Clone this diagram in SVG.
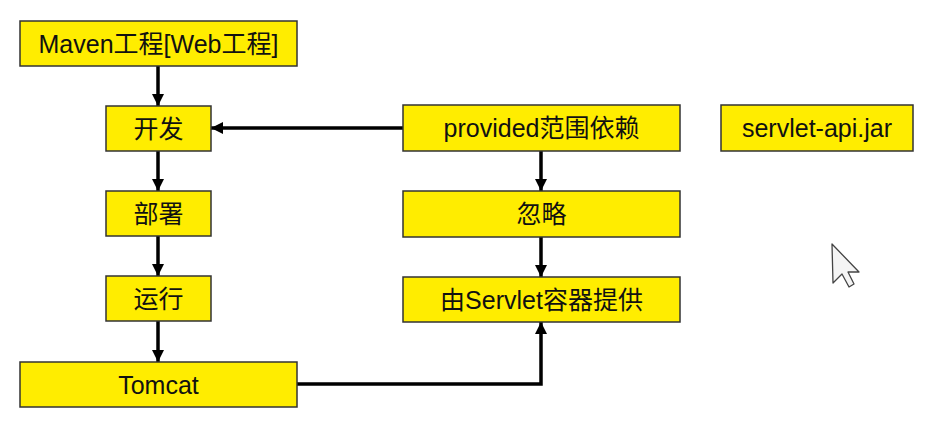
<svg xmlns="http://www.w3.org/2000/svg" width="927" height="424" viewBox="0 0 927 424">
<style>
.box{fill:#FFED00;stroke:#333;stroke-width:1.5}
.lbl{font-family:"Liberation Sans","Noto Sans CJK SC",sans-serif;font-size:25px;fill:#111;text-anchor:middle}
.edge{fill:none;stroke:#000;stroke-width:3.5}
</style>
<defs>
<marker id="ah" markerUnits="userSpaceOnUse" markerWidth="14" markerHeight="14" refX="12" refY="7" orient="auto" overflow="visible">
<path d="M0,1 L12,7 L0,13 z" fill="#000"/>
</marker>
</defs>
<rect width="927" height="424" fill="#fff"/>
<g id="connectors">
<path class="edge" d="M158,66 V106" marker-end="url(#ah)"/>
<path class="edge" d="M158,151 V191" marker-end="url(#ah)"/>
<path class="edge" d="M158,236 V276" marker-end="url(#ah)"/>
<path class="edge" d="M158,321 V362" marker-end="url(#ah)"/>
<path class="edge" d="M403,128 H211" marker-end="url(#ah)"/>
<path class="edge" d="M541,151 V191" marker-end="url(#ah)"/>
<path class="edge" d="M541,237 V277" marker-end="url(#ah)"/>
<path class="edge" d="M297,384 H541 V322" marker-end="url(#ah)"/>
</g>
<g id="maven"><rect class="box" x="20" y="21" width="277" height="45"/><text class="lbl" x="158.5" y="52.5">Maven工程[Web工程]</text></g>
<g id="kaifa"><rect class="box" x="106" y="106" width="105" height="45"/><text class="lbl" x="158.5" y="137.5">开发</text></g>
<g id="bushu"><rect class="box" x="106" y="191" width="105" height="45"/><text class="lbl" x="158.5" y="222.5">部署</text></g>
<g id="yunxing"><rect class="box" x="106" y="276" width="105" height="45"/><text class="lbl" x="158.5" y="307.5">运行</text></g>
<g id="tomcat"><rect class="box" x="20" y="362" width="277" height="45"/><text class="lbl" x="158.5" y="393.5">Tomcat</text></g>
<g id="provided"><rect class="box" x="403" y="105" width="277" height="46"/><text class="lbl" x="541.5" y="136.5">provided范围依赖</text></g>
<g id="servletapi"><rect class="box" x="721" y="105" width="192" height="46"/><text class="lbl" x="817" y="136.5">servlet-api.jar</text></g>
<g id="hulue"><rect class="box" x="403" y="191" width="277" height="46"/><text class="lbl" x="541.5" y="222.5">忽略</text></g>
<g id="servletcontainer"><rect class="box" x="403" y="277" width="277" height="45"/><text class="lbl" x="541.5" y="308.5">由Servlet容器提供</text></g>
<path d="M832,244 L833,283 L842,274 L849,287 L854,284 L848,272 L859,272 Z" fill="#f4f4f4" stroke="#444" stroke-width="1.3" stroke-linejoin="round"/>
</svg>
